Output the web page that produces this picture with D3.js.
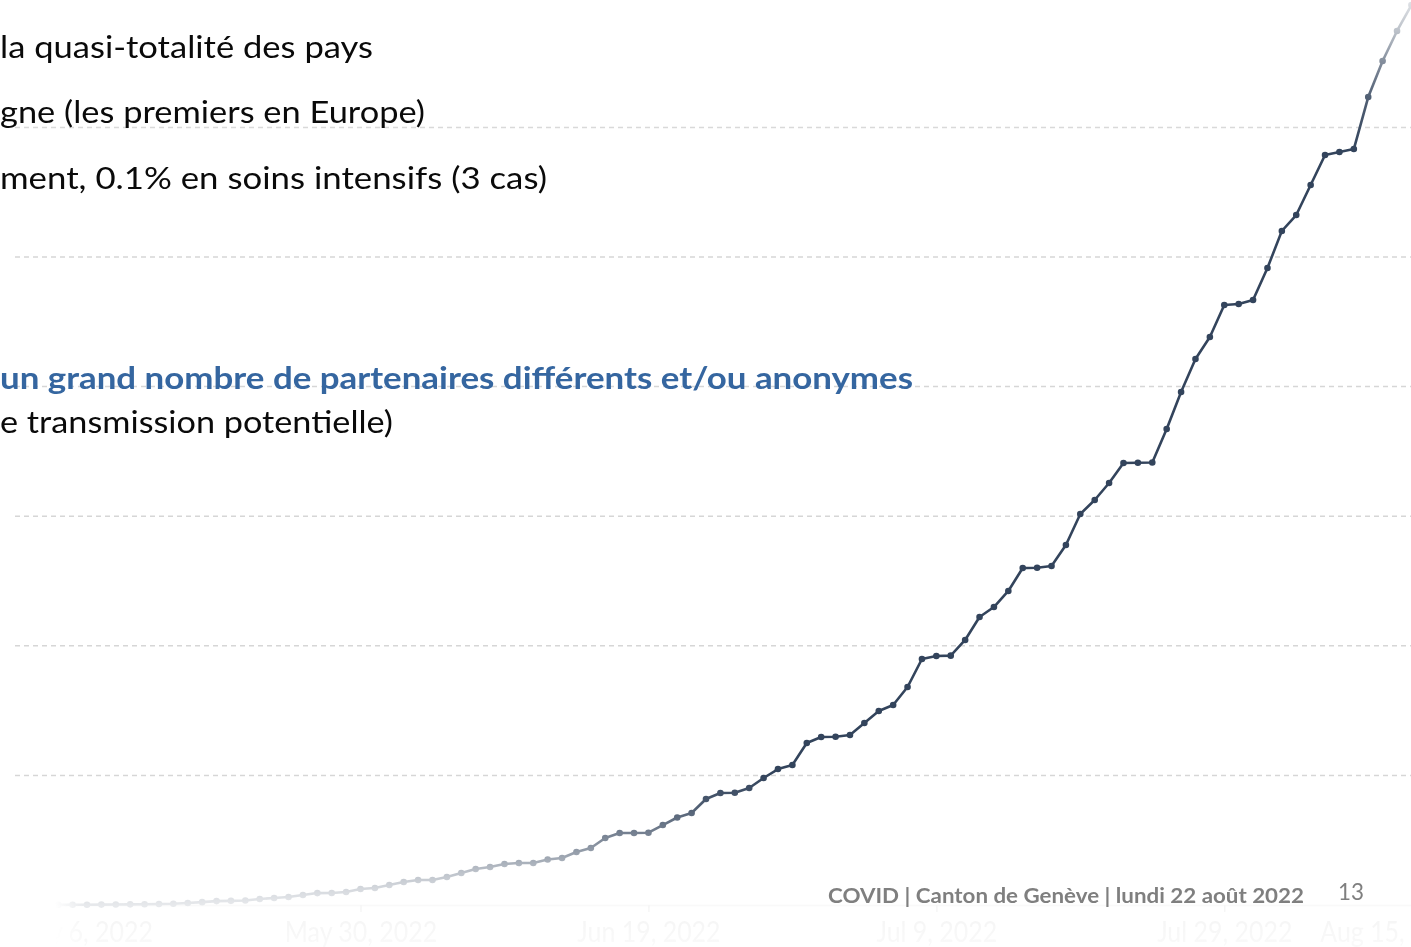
<!DOCTYPE html>
<html>
<head>
<meta charset="utf-8">
<script src="https://cdn.jsdelivr.net/npm/d3@7"></script>
<style>
  html, body { margin: 0; padding: 0; background: #ffffff; overflow: hidden; }
  svg { display: block; }
</style>
</head>
<body>
<svg id="chart" width="1411" height="947"></svg>
<script>
// ---------------- DATA ----------------
const startDate = "2022-05-06";
const endDate = "2022-08-15";
// cumulative confirmed cases, one value per day starting at startDate
const cases = [
  1, 1, 2, 5, 9, 12, 15, 20, 25, 30,
  40, 50, 75, 110, 150, 160, 175, 230, 270, 310,
  385, 460, 465, 500, 615, 655, 770, 890, 965, 965,
  1080, 1235, 1390, 1465, 1580, 1620, 1620, 1755, 1815, 2045,
  2200, 2585, 2780, 2780, 2790, 3085, 3375, 3550, 4090, 4320,
  4330, 4515, 4900, 5245, 5400, 6250, 6480, 6490, 6560, 7020,
  7485, 7715, 8410, 9490, 9605, 9620, 10225, 11110, 11495, 12115,
  13000, 13010, 13080, 13890, 15085, 15625, 16280, 17050, 17060, 17070,
  18365, 19790, 21065, 21915, 23150, 23185, 23340, 24575, 26005, 26620,
  27780, 28935, 29050, 29165, 31170, 32560, 33720, 34720
];
const gridValues = [5000, 10000, 15000, 20000, 25000, 30000];
const tickDates = ["2022-05-30", "2022-06-19", "2022-07-09", "2022-07-29"];
const tickLabels = ["May 30, 2022", "Jun 19, 2022", "Jul 9, 2022", "Jul 29, 2022"];
const startLabel = "May 6, 2022";
const endLabel = "Aug 15, 2022";

const bulletLines = [
  "la quasi-totalité des pays",
  "gne (les premiers en Europe)",
  "ment, 0.1% en soins intensifs (3 cas)"
];
const highlightLine = "un grand nombre de partenaires différents et/ou anonymes";
const lastLine = "e transmission potentielle)";
const footerText = "COVID | Canton de Genève | lundi 22 août 2022";
const pageNumber = "13";

// ---------------- SETUP ----------------
const parse = d3.timeParse("%Y-%m-%d");
const t0 = parse(startDate);
const series = cases.map((v, i) => ({ date: d3.timeDay.offset(t0, i), value: v }));

const svg = d3.select("#chart");
const W = 1411, H = 947;

const x = d3.scaleTime().domain([t0, parse(endDate)]).range([15, 1469]);
const y = d3.scaleLinear().domain([0, 30000]).range([905, 127.4]);

const defs = svg.append("defs");
// soft-edge fade of the pasted chart picture (top and bottom)
const fade = defs.append("linearGradient")
  .attr("id", "fadeGrad").attr("gradientUnits", "userSpaceOnUse")
  .attr("x1", 0).attr("y1", 0).attr("x2", 0).attr("y2", H);
const fadeStops = [
  [0, 0.15], [31, 0.33], [61, 0.6], [97, 0.85], [150, 1], [775, 1],
  [800, 0.9], [833, 0.68], [852, 0.52], [873, 0.32], [890, 0.2], [905, 0.12], [947, 0.06]
];
fadeStops.forEach(([p, o]) => fade.append("stop")
  .attr("offset", p / H).attr("stop-color", "#fff").attr("stop-opacity", o));
defs.append("mask").attr("id", "fadeMask")
  .attr("maskUnits", "userSpaceOnUse").attr("x", 0).attr("y", 0).attr("width", W).attr("height", H)
  .append("rect").attr("x", 0).attr("y", 0).attr("width", W).attr("height", H).attr("fill", "url(#fadeGrad)");

// left soft edge (applies to line and axis labels)
const fadeL = defs.append("linearGradient")
  .attr("id", "fadeGradL").attr("gradientUnits", "userSpaceOnUse")
  .attr("x1", 0).attr("y1", 0).attr("x2", W).attr("y2", 0);
[[0, 0], [55, 0], [85, 1], [W, 1]].forEach(([p, o]) => fadeL.append("stop")
  .attr("offset", p / W).attr("stop-color", "#fff").attr("stop-opacity", o));
defs.append("mask").attr("id", "fadeMaskL")
  .attr("maskUnits", "userSpaceOnUse").attr("x", 0).attr("y", 0).attr("width", W).attr("height", H)
  .append("rect").attr("x", 0).attr("y", 0).attr("width", W).attr("height", H).attr("fill", "url(#fadeGradL)");

const chart = svg.append("g").attr("mask", "url(#fadeMask)");

// gridlines
chart.append("g").selectAll("line").data(gridValues).join("line")
  .attr("x1", x(t0)).attr("x2", W)
  .attr("y1", d => y(d)).attr("y2", d => y(d))
  .attr("stroke", "#d6d6d6").attr("stroke-width", 1.5)
  .attr("stroke-dasharray", "5,4");

const inner = chart.append("g").attr("mask", "url(#fadeMaskL)");

// x axis
const xAxis = d3.axisBottom(x)
  .tickValues(tickDates.map(parse))
  .tickFormat((d, i) => tickLabels[i])
  .tickSize(7).tickPadding(9);
const ax = inner.append("g").attr("transform", `translate(0,${y(0)})`).call(xAxis);
ax.select(".domain").attr("stroke", "#cccccc").attr("stroke-width", 1.5);
ax.selectAll(".tick line").attr("stroke", "#aaaaaa").attr("stroke-width", 1.5);
ax.selectAll(".tick text")
  .attr("font-family", "Lato, 'Noto Sans', sans-serif").attr("font-size", 29)
  .attr("fill", "#a0a0a0");
ax.selectAll(".tick text").each(function () {
  const w = this.getComputedTextLength();
  d3.select(this).attr("textLength", w * 0.86).attr("lengthAdjust", "spacingAndGlyphs");
});
const endLabels = [
  { d: t0, t: startLabel, a: "start" },
  { d: parse(endDate), t: endLabel, a: "end" }
];
ax.selectAll(".endlabel").data(endLabels).join("text")
  .attr("class", "endlabel")
  .attr("x", d => x(d.d)).attr("y", 37)
  .attr("text-anchor", d => d.a)
  .attr("font-family", "Lato, 'Noto Sans', sans-serif").attr("font-size", 29)
  .attr("fill", "#a0a0a0")
  .text(d => d.t)
  .each(function () {
    const w = this.getComputedTextLength();
    d3.select(this).attr("textLength", w * 0.86).attr("lengthAdjust", "spacingAndGlyphs");
  });
ax.selectAll(".tick text").attr("dy", null).attr("y", 37);

// line + points
const lineColor = "#33445c";
inner.append("path").datum(series)
  .attr("fill", "none").attr("stroke", lineColor).attr("stroke-width", 2.6)
  .attr("stroke-linejoin", "round")
  .attr("d", d3.line().x(d => x(d.date)).y(d => y(d.value)));
inner.append("g").selectAll("circle").data(series).join("circle")
  .attr("cx", d => x(d.date)).attr("cy", d => y(d.value))
  .attr("r", 3.3).attr("fill", lineColor);

// ---------------- SLIDE TEXT ----------------
const bodyFont = "Lato, 'Open Sans', sans-serif";
function fitText(sel, width) {
  sel.attr("textLength", width).attr("lengthAdjust", "spacingAndGlyphs");
}
const bodyPos = [
  { y: 58, w: 373 },
  { y: 123, w: 425 },
  { y: 189, w: 547 }
];
svg.append("g").selectAll("text").data(bulletLines).join("text")
  .attr("x", 0).attr("y", (d, i) => bodyPos[i].y)
  .attr("font-family", bodyFont).attr("font-size", 31).attr("fill", "#0a0a0a")
  .text(d => d)
  .each(function (d, i) { fitText(d3.select(this), bodyPos[i].w); });

svg.append("text").attr("x", 0).attr("y", 389)
  .attr("font-family", bodyFont).attr("font-size", 31).attr("font-weight", 700)
  .attr("fill", "#3566a0").text(highlightLine)
  .call(fitText, 913);

svg.append("text").attr("x", 0).attr("y", 433)
  .attr("font-family", bodyFont).attr("font-size", 31).attr("fill", "#0a0a0a")
  .text(lastLine).call(fitText, 393);

svg.append("text").attr("x", 828).attr("y", 903)
  .attr("font-family", bodyFont).attr("font-size", 20).attr("font-weight", 700)
  .attr("fill", "#7f7f7f").text(footerText).call(fitText, 476);

svg.append("text").attr("x", 1338).attr("y", 900)
  .attr("font-family", bodyFont).attr("font-size", 23)
  .attr("fill", "#7f7f7f").text(pageNumber).call(fitText, 26);
</script>
</body>
</html>
